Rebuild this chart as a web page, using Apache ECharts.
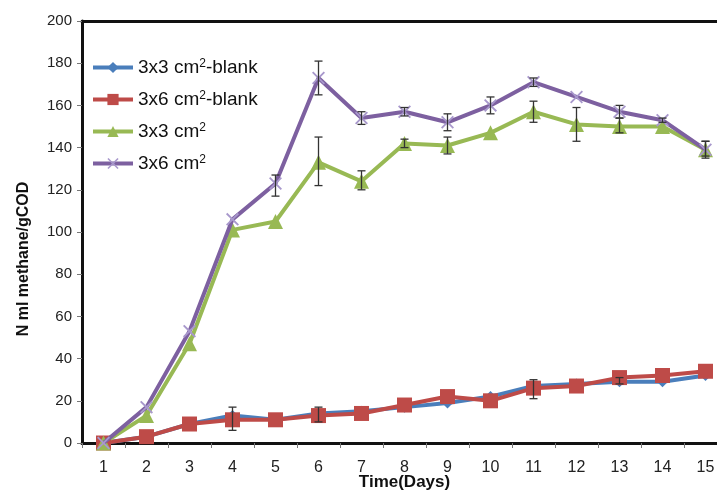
<!DOCTYPE html>
<html style="height: 100%">
<head>
    <meta charset="utf-8">
</head>
<body style="height: 100%; margin: 0; background: #fff">
<div id="container" style="width: 717px; height: 491px"></div>
<script type="text/javascript" src="https://cdn.jsdelivr.net/npm/echarts@6/dist/echarts.min.js"></script>
<script type="text/javascript">
    var days = ['1', '2', '3', '4', '5', '6', '7', '8', '9', '10', '11', '12', '13', '14', '15'];
    var seriesNames = ['3x3 cm2-blank', '3x6 cm2-blank', '3x3 cm2', '3x6 cm2'];

    var blank33 = [0, 3, 9, 13, 11, 14, 15, 17, 19, 22, 27, 28, 29, 29, 32];
    var blank36 = [0, 3, 9, 11, 11, 13, 14, 18, 22, 20, 26, 27, 31, 32, 34];
    var cm33 = [0, 13, 47, 101, 105, 133, 124, 142, 141, 147, 157, 151, 150, 150, 139];
    var cm36 = [0, 17, 53, 106, 123, 173, 154, 157, 152, 160, 171, 164, 157, 153, 139];

    // error bars: [day index, low, high]
    var errBlank33 = [[3, 6, 17], [5, 10, 17], [10, 21, 30], [12, 28, 31]];
    var errCm33 = [[5, 122, 145], [6, 120, 129], [7, 140, 144], [8, 137, 145], [10, 152, 162], [11, 143, 159], [12, 147, 154], [14, 136, 143]];
    var errCm36 = [[4, 117, 127], [5, 165, 181], [6, 151, 157], [7, 155, 159], [8, 148, 156], [9, 156, 164], [10, 169, 173], [12, 154, 160], [13, 152, 154], [14, 135, 143]];

    var dom = document.getElementById("container");
    var myChart = echarts.init(dom);
    var font = 'Liberation Sans, Arial, sans-serif';

    function errorBars(data) {
        return {
            type: 'custom',
            data: data,
            z: 5,
            silent: true,
            renderItem: function (params, api) {
                var lo = api.coord([api.value(0), api.value(1)]);
                var hi = api.coord([api.value(0), api.value(2)]);
                var w = 4;
                var style = {stroke: '#333', lineWidth: 1.3};
                return {
                    type: 'group',
                    children: [
                        {type: 'line', shape: {x1: hi[0], y1: hi[1], x2: lo[0], y2: lo[1]}, style: style},
                        {type: 'line', shape: {x1: hi[0] - w, y1: hi[1], x2: hi[0] + w, y2: hi[1]}, style: style},
                        {type: 'line', shape: {x1: lo[0] - w, y1: lo[1], x2: lo[0] + w, y2: lo[1]}, style: style}
                    ]
                };
            }
        };
    }

    function lineSeries(name, data, color, symbol, size, z, symColor) {
        return {
            name: name,
            type: 'line',
            data: data,
            symbol: symbol,
            symbolSize: size,
            z: z,
            lineStyle: {color: color, width: 4},
            itemStyle: {color: symColor || color},
            emphasis: {disabled: true}
        };
    }

    var crossPath = 'path://M0,1L1,0L5,4L9,0L10,1L6,5L10,9L9,10L5,6L1,10L0,9L4,5Z';

    var option = {
        animation: false,
        textStyle: {fontFamily: font},
        grid: {left: 82, right: -10, top: 21, bottom: 48, outerBoundsMode: 'none', containLabel: false},
        legend: {
            orient: 'vertical',
            left: 86,
            top: 53,
            itemWidth: 40,
            itemHeight: 14,
            itemGap: 13,
            data: seriesNames,
            lineStyle: {width: 4},
            textStyle: {
                fontSize: 19,
                lineHeight: 19,
                color: '#111',
                fontFamily: font,
                rich: {sup: {fontSize: 12, lineHeight: 19, verticalAlign: 'top', padding: [0, 0, 0, 0], fontFamily: font, color: '#111'}}
            },
            formatter: function (name) {
                return name.replace('cm2', 'cm{sup|2}');
            }
        },
        xAxis: [{
            type: 'category',
            data: days,
            boundaryGap: true,
            name: 'Time(Days)',
            nameLocation: 'middle',
            nameGap: 31,
            nameMoveOverlap: false,
            nameTextStyle: {fontSize: 17, fontWeight: 'bold', color: '#111', fontFamily: font},
            axisLine: {lineStyle: {color: '#111', width: 3}},
            axisTick: {show: true, length: 5, lineStyle: {color: '#777'}},
            axisLabel: {fontSize: 16, color: '#222', margin: 17, fontFamily: 'Liberation Sans Narrow, Liberation Sans, sans-serif'},
            splitLine: {show: false}
        }, {
            type: 'category',
            data: days,
            position: 'top',
            axisLine: {lineStyle: {color: '#111', width: 3}},
            axisTick: {show: false},
            axisLabel: {show: false}
        }],
        yAxis: {
            type: 'value',
            min: 0,
            max: 200,
            interval: 20,
            name: 'N ml methane/gCOD',
            nameLocation: 'middle',
            nameGap: 50,
            nameMoveOverlap: false,
            nameTextStyle: {fontSize: 16, fontWeight: 'bold', color: '#111', fontFamily: font, padding: [0, 54, 0, 0]},
            axisLine: {show: true, lineStyle: {color: '#111', width: 3}},
            axisTick: {show: true, length: 5, lineStyle: {color: '#777'}},
            axisLabel: {fontSize: 15, color: '#222', margin: 10},
            splitLine: {show: false}
        },
        series: [
            lineSeries(seriesNames[0], blank33, '#4a7ebb', 'diamond', 11, 2),
            lineSeries(seriesNames[1], blank36, '#be4b48', 'rect', 15, 3),
            lineSeries(seriesNames[2], cm33, '#98b954', 'triangle', 15, 3),
            lineSeries(seriesNames[3], cm36, '#7d60a0', crossPath, 13, 4, '#a898cc'),
            errorBars(errBlank33),
            errorBars(errCm33),
            errorBars(errCm36)
        ]
    };

    myChart.setOption(option, true);
</script>
</body>
</html>
